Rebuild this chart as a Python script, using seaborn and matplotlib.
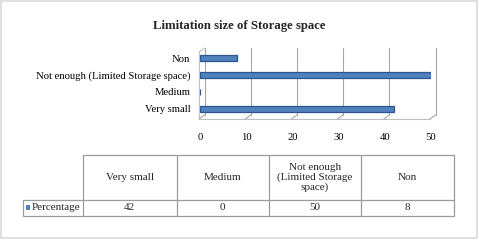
import matplotlib
matplotlib.use("Agg")
import matplotlib.pyplot as plt
import matplotlib.transforms as mtransforms
from matplotlib.patches import Rectangle
from matplotlib.lines import Line2D
import seaborn as sns
import pandas as pd

# ---- data ----
categories = ["Very small", "Medium", "Not enough (Limited Storage space)", "Non"]
table_headers = ["Very small", "Medium", "Not enough\n(Limited Storage\nspace)", "Non"]
values = [42, 0, 50, 8]
series_name = "Percentage"
title = "Limitation size of Storage space"
x_ticks = [0, 10, 20, 30, 40, 50]

sns.set_style("white")
plt.rcParams["font.family"] = ["Liberation Serif", "DejaVu Serif"]

W, H = 479, 240
fig = plt.figure(figsize=(W / 100, H / 100), dpi=100)


def fx(px):
    return px / W


def fy(py):
    return 1 - py / H


BAR = "#4F81BD"
BAR_EDGE = "#2A5690"
GRID = "#A6A6A6"
TABLE = "#9C9C9C"
FS = 8
FS_AX = 7.7

ax = fig.add_axes([fx(200), fy(119), (431 - 200) / W, (119 - 48) / H])
df = pd.DataFrame({"category": categories, "value": values})
order = categories[::-1]
sns.barplot(data=df, y="category", x="value", order=order, orient="h",
            width=0.34, color=BAR, edgecolor=BAR_EDGE, linewidth=0.9,
            saturation=1, ax=ax, zorder=3)
ax.set_xlim(0, 50)
ax.set_ylim(3.6, -0.6)
ax.set_xticks(x_ticks)
ax.set_xlabel("")
ax.set_ylabel("")
ax.tick_params(axis="both", length=0, labelsize=FS_AX, colors="black")
ax.tick_params(axis="x", pad=10)
ax.tick_params(axis="y", pad=7)
for s in ax.spines.values():
    s.set_visible(False)
ax.patch.set_alpha(0)

# pseudo-3D walls and gridlines
blend = mtransforms.blended_transform_factory(ax.transData, ax.transAxes)


def shifted(dx, dy):
    return blend + mtransforms.ScaledTranslation(dx / 100, dy / 100, fig.dpi_scale_trans)


inv = fig.transFigure.inverted()
back = shifted(4.5, 0)
front = shifted(-1, 0)
depth = 4 / 71  # axes-fraction of the 4 px floor depth
for t in x_ticks:
    ax.add_line(Line2D([t, t], [1, depth], transform=back, color=GRID, lw=0.8, clip_on=False, zorder=1))
    a = inv.transform(back.transform((t, depth)))
    b = inv.transform(front.transform((t, 0)))
    fig.add_artist(Line2D([a[0], b[0]], [a[1], b[1]], transform=fig.transFigure, color=GRID, lw=0.8, zorder=1))
ax.add_line(Line2D([0, 50], [0, 0], transform=front, color="#BFBFBF", lw=0.8, clip_on=False, zorder=1))
ax.add_line(Line2D([0, 0], [0, 1 - depth], transform=front, color="#BFBFBF", lw=0.8, clip_on=False, zorder=1))
pa = inv.transform(front.transform((0, 1 - depth)))
pb = inv.transform(back.transform((0, 1)))
fig.add_artist(Line2D([pa[0], pb[0]], [pa[1], pb[1]], transform=fig.transFigure, color="#BFBFBF", lw=0.8))

# title
fig.text(fx(239.5), fy(26), title, ha="center", va="center", fontsize=9.2, weight="bold")

# data table
col_x = [83, 176.5, 268.5, 361, 454]
label_left = 22.5
y_top, y_mid, y_bot = 155, 200, 216


def hline(x0, x1, y):
    fig.add_artist(Line2D([fx(x0), fx(x1)], [fy(y), fy(y)], transform=fig.transFigure, color=TABLE, lw=0.9))


def vline(x, y0, y1):
    fig.add_artist(Line2D([fx(x), fx(x)], [fy(y0), fy(y1)], transform=fig.transFigure, color=TABLE, lw=0.9))


hline(col_x[0], col_x[-1], y_top)
hline(label_left, col_x[-1], y_mid)
hline(label_left, col_x[-1], y_bot)
for x in col_x:
    vline(x, y_top, y_bot)
vline(label_left, y_mid, y_bot)

for i, (hdr, val) in enumerate(zip(table_headers, values)):
    cx = (col_x[i] + col_x[i + 1]) / 2
    fig.text(fx(cx), fy(177.5), hdr, ha="center", va="center", fontsize=FS, linespacing=1.05)
    fig.text(fx(cx), fy(208), str(val), ha="center", va="center", fontsize=FS)

fig.add_artist(Rectangle((fx(25.5), fy(210)), 5 / W, 5 / H, transform=fig.transFigure, color=BAR, lw=0))
fig.text(fx(31.5), fy(208), series_name, ha="left", va="center", fontsize=FS)

# outer frame
fig.add_artist(Rectangle((fx(1), fy(237.5)), 476 / W, 236.5 / H, transform=fig.transFigure,
                         fill=False, edgecolor="#D9D9D9", lw=1.2))

fig.savefig("out.png", dpi=100)
